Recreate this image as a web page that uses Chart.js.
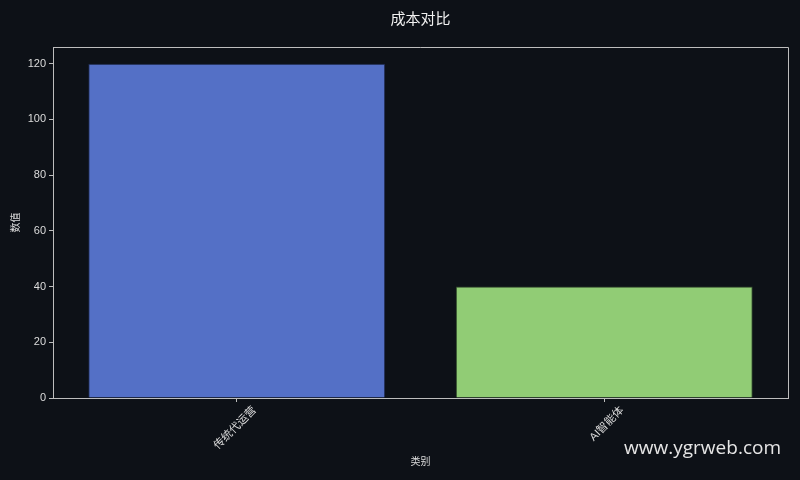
<!DOCTYPE html>
<html>
<head>
<meta charset="utf-8">
<script src="https://cdn.jsdelivr.net/npm/chart.js@4.4.1/dist/chart.umd.min.js"></script>
<style>
  html, body { margin: 0; padding: 0; background: #0d1117; }
  #wrap { width: 800px; height: 480px; }
</style>
</head>
<body>
<div id="wrap"><canvas id="costChart" width="800" height="480"></canvas></div>
<script>
const categories = ['传统代运营', 'AI智能体'];
const costValues = [120, 40];
const yTicks = [0, 20, 40, 60, 80, 100, 120];
const yMax = 126;

const textColor = '#dcdcdc';
const lineColor = '#bdbdbd';
const cjkFont = '"Liberation Sans", "Noto Sans CJK SC", sans-serif';

// top/right frame lines + watermark
const framePlugin = {
  id: 'frame',
  afterDraw(chart) {
    const { ctx, chartArea: a } = chart;
    ctx.save();
    ctx.strokeStyle = lineColor;
    ctx.lineWidth = 1;
    ctx.beginPath();
    ctx.moveTo(a.left, a.top + 0.5);
    ctx.lineTo(a.right + 0.5, a.top + 0.5);
    ctx.lineTo(a.right + 0.5, a.bottom);
    ctx.stroke();
    ctx.fillStyle = '#e6e6e6';
    ctx.font = '19px "Open Sans", "Noto Sans", sans-serif';
    ctx.textAlign = 'right';
    ctx.textBaseline = 'middle';
    ctx.fillText('www.ygrweb.com', 781, 449);
    ctx.restore();
  }
};

new Chart(document.getElementById('costChart').getContext('2d'), {
  type: 'bar',
  data: {
    labels: categories,
    datasets: [{
      label: '数值',
      data: costValues,
      backgroundColor: ['#5470c6', '#91cc75'],
      borderColor: ['rgba(40,55,110,0.6)', 'rgba(80,130,60,0.5)'],
      borderWidth: 1,
      barPercentage: 0.808,
      categoryPercentage: 1.0
    }]
  },
  options: {
    responsive: false,
    animation: false,
    layout: { padding: { left: 0, right: 12, top: 0, bottom: 0 } },
    plugins: {
      legend: { display: false },
      tooltip: { enabled: false },
      title: {
        display: true,
        text: '成本对比',
        fullSize: false,
        color: '#f0f0f0',
        font: { family: '"Noto Sans CJK SC", sans-serif', size: 15, weight: 'normal' },
        padding: { top: 9, bottom: 20 }
      }
    },
    scales: {
      x: {
        offset: true,
        grid: { display: true, offset: false, drawOnChartArea: false, tickLength: 4, tickColor: lineColor },
        border: { display: true, color: lineColor, width: 1 },
        ticks: {
          color: textColor,
          font: { family: cjkFont, size: 11 },
          minRotation: 45,
          maxRotation: 45,
          padding: 2,
          labelOffset: 18
        },
        title: {
          display: true,
          text: '类别',
          color: textColor,
          font: { family: cjkFont, size: 10 },
          padding: { top: 0, bottom: 12 }
        },
        afterFit(scale) { scale.height = 82; }
      },
      y: {
        min: 0,
        max: yMax,
        afterBuildTicks(scale) { scale.ticks = yTicks.map(v => ({ value: v })); },
        grid: { display: true, drawOnChartArea: false, tickLength: 4, tickColor: lineColor },
        border: { display: true, color: lineColor, width: 1 },
        ticks: {
          color: textColor,
          font: { family: cjkFont, size: 11 },
          padding: 3
        },
        title: {
          display: true,
          text: '数值',
          color: textColor,
          font: { family: cjkFont, size: 10 },
          padding: { top: 10, bottom: 0 }
        },
        afterFit(scale) { scale.width = 53; }
      }
    }
  },
  plugins: [framePlugin]
});
</script>
</body>
</html>
